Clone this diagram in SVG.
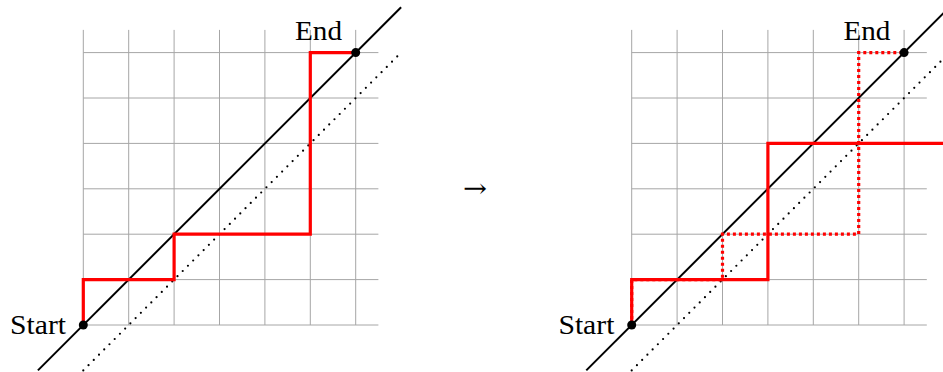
<svg xmlns="http://www.w3.org/2000/svg" xmlns:xlink="http://www.w3.org/1999/xlink" width="943" height="372" viewBox="0 0 943 372">
<style>
.grid{stroke:#a6a6a6;stroke-width:1;fill:none}
.diag{stroke:#000;stroke-width:2;fill:none}
.dots{stroke:#000;stroke-width:2.2;fill:none;stroke-linecap:round;stroke-dasharray:0 7.4}
.red{stroke:#ff0000;stroke-width:3.2;fill:none;stroke-linejoin:miter}
.reddot{stroke:#ff0000;stroke-width:3.2;fill:none;stroke-dasharray:3 3}
.lbl{font-family:"Liberation Serif","DejaVu Serif",serif;font-size:27px;fill:#000}
.arr{font-family:"DejaVu Serif",serif;font-size:26px;fill:#000}
.pt{fill:#000}
</style>
<defs>
<g id="gridlines" class="grid">
<path d="M0,325V29.9M45.4,325V29.9M90.8,325V29.9M136.2,325V29.9M181.6,325V29.9M227,325V29.9M272.4,325V29.9"/>
<path d="M0,325H295.1M0,279.6H295.1M0,234.2H295.1M0,188.8H295.1M0,143.4H295.1M0,98H295.1M0,52.6H295.1"/>
</g>
</defs>
<g id="grid-left" transform="translate(83.3,0)"><use xlink:href="#gridlines"/></g>
<g id="grid-right" transform="translate(631.7,0)"><use xlink:href="#gridlines"/></g>
<g id="connectors">
<line class="diag" x1="37.9" y1="370.4" x2="401.1" y2="7.2"/>
<line class="dots" x1="83.3" y1="370.4" x2="401.1" y2="52.6"/>
<path class="red" d="M83.3,325V279.6H174.1V234.2H310.3V52.6H355.7"/>
<line class="diag" x1="586.3" y1="370.4" x2="949.5" y2="7.2"/>
<line class="dots" x1="631.7" y1="370.4" x2="949.5" y2="52.6"/>
<path class="red" d="M631.7,325V279.6H767.9V143.4H950"/>
<path class="reddot" d="M631.7,325V279.6H722.5V234.2H858.7V52.6H904.1"/>
</g>
<g id="start-left"><circle class="pt" cx="83.3" cy="325" r="4.5"/><text class="lbl" x="66" y="334" text-anchor="end" textLength="56" lengthAdjust="spacingAndGlyphs">Start</text></g>
<g id="end-left"><circle class="pt" cx="355.7" cy="52.6" r="4.5"/><text class="lbl" x="295" y="40" textLength="47" lengthAdjust="spacingAndGlyphs">End</text></g>
<g id="arrow"><text class="arr" x="463" y="197" textLength="24" lengthAdjust="spacingAndGlyphs">→</text></g>
<g id="start-right"><circle class="pt" cx="631.7" cy="325" r="4.5"/><text class="lbl" x="614.4" y="334" text-anchor="end" textLength="56" lengthAdjust="spacingAndGlyphs">Start</text></g>
<g id="end-right"><circle class="pt" cx="904.1" cy="52.6" r="4.5"/><text class="lbl" x="843.4" y="40" textLength="47" lengthAdjust="spacingAndGlyphs">End</text></g>
</svg>
